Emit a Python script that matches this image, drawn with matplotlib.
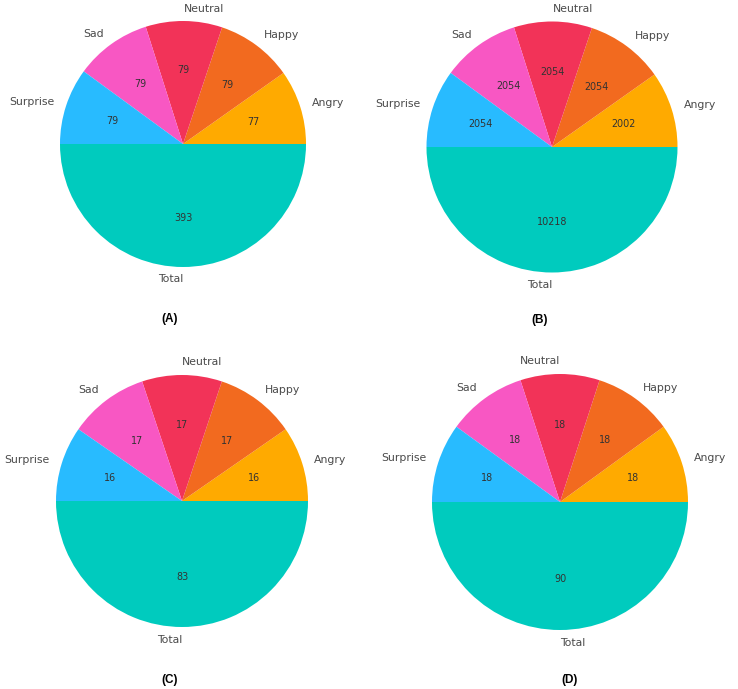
import matplotlib
matplotlib.use("Agg")
import matplotlib.pyplot as plt

# --------------------------
# DATA
# --------------------------
labels = ["Angry", "Happy", "Neutral", "Sad", "Surprise", "Total"]
colors = ["#FFAA00", "#F26A1F", "#F23358", "#F857C3", "#28BBFF", "#00CBBE"]

counts_a = [77, 79, 79, 79, 79, 393]
counts_b = [2002, 2054, 2054, 2054, 2054, 10218]
counts_c = [16, 17, 17, 17, 16, 83]
counts_d = [18, 18, 18, 18, 18, 90]

panel_names = ["(A)", "(B)", "(C)", "(D)"]
panel_counts = [counts_a, counts_b, counts_c, counts_d]
# "Total" label sits left of the bottom point in A-C, right of it in D
total_align = ["right", "right", "right", "left"]

# layout in pixels: pie centre x, centre y (from top), radius; panel label x, y
W, H = 738, 689
pie_layout = [(183, 144, 123), (552, 147, 125.5), (182, 501, 126), (560, 502, 128)]
label_pos = [(170, 319), (540, 320), (170, 680), (570, 680)]

fig = plt.figure(figsize=(W / 100, H / 100), dpi=100)
fig.patch.set_facecolor("white")

L = 1.45  # half-width of each axes in data units
for counts, (cx, cy, r), name, (lx, ly), ta in zip(panel_counts, pie_layout, panel_names,
                                                    label_pos, total_align):
    half = L * r
    ax = fig.add_axes([(cx - half) / W, 1 - (cy + half) / H, 2 * half / W, 2 * half / H])
    total = sum(counts)
    wedges, texts, autotexts = ax.pie(
        counts, labels=labels, colors=colors, startangle=0,
        autopct=lambda p, t=total: f"{round(p * t / 100):d}",
        textprops={"fontsize": 7.8, "color": "#4a4a4a"},
    )
    texts[-1].set_ha(ta)
    for t in autotexts:
        t.set_fontsize(6.9)
        t.set_color("#333333")
    ax.set_xlim(-L, L)
    ax.set_ylim(-L, L)
    ax.set_aspect("equal")
    ax.axis("off")

    fig.text(lx / W, 1 - ly / H, name, ha="center", va="center",
             fontsize=8.5, fontweight="bold", family="Liberation Sans")

fig.savefig("out.png", dpi=100, facecolor="white")
